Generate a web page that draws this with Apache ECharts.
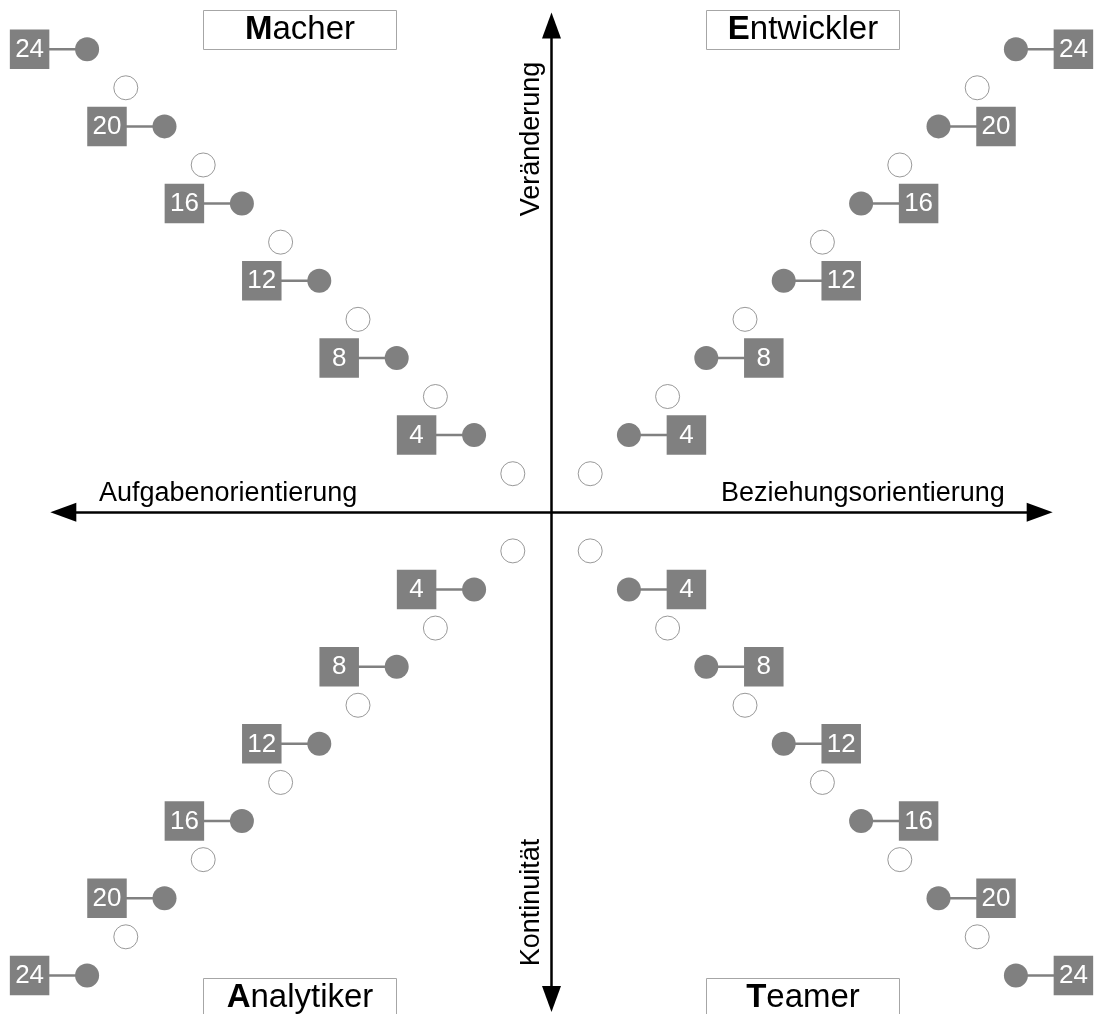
<!DOCTYPE html>
<html>
<head>
<meta charset="utf-8">
<script src="https://cdn.jsdelivr.net/npm/echarts@6/dist/echarts.min.js"></script>
<style>
  html, body { margin: 0; padding: 0; background: #fff; }
  #chart { width: 1096px; height: 1014px; }
</style>
</head>
<body>
<div id="chart"></div>
<script>
// diagonal steps per quadrant: odd ones are empty rings, even ones carry a score
const openSteps = [1, 3, 5, 7, 9, 11];
const scoreSteps = [2, 4, 6, 8, 10, 12];
const scoreLabels = [4, 8, 12, 16, 20, 24];
const quadrantNames = ['Macher', 'Entwickler', 'Analytiker', 'Teamer'];
const quadrantSigns = [[-1, 1], [1, 1], [-1, -1], [1, -1]];
const axisTitles = ['Aufgabenorientierung', 'Beziehungsorientierung', 'Veränderung', 'Kontinuität'];

const GRAY = '#808080';
const FONT = 'Arial, "Liberation Sans", Helvetica, sans-serif';
const UNIT = 38.7;          // px per step
const CX = 551.5, CY = 513.7;
const ARROW_TIP = 12.95;    // in steps
const ARROW_LEN = 26;       // px

const openData = [];
const scoreData = [];
quadrantSigns.forEach(([sx, sy]) => {
  openSteps.forEach((s) => openData.push([sx * s, sy * s]));
  scoreSteps.forEach((s, i) => scoreData.push([sx * s, sy * s, scoreLabels[i], sx]));
});

function renderScore(params, api) {
  const p = api.coord([api.value(0), api.value(1)]);
  const dir = api.value(3);
  const unit = api.size([1, 0])[0];
  const sqX = p[0] + dir * unit * 1.486;
  const half = 19.75;
  return {
    type: 'group',
    children: [
      { type: 'line', shape: { x1: p[0], y1: p[1], x2: sqX, y2: p[1] }, style: { stroke: GRAY, lineWidth: 2.5 } },
      { type: 'rect', shape: { x: sqX - half, y: p[1] - half, width: half * 2, height: half * 2 }, style: { fill: GRAY } },
      { type: 'circle', shape: { cx: p[0], cy: p[1], r: 12 }, style: { fill: GRAY } },
      {
        type: 'text', x: sqX, y: p[1] + 0.5,
        style: { text: String(api.value(2)), fill: '#fff', font: '26px ' + FONT, textAlign: 'center', textVerticalAlign: 'middle' }
      }
    ]
  };
}

// boxes with the type names
const boxPos = [[203.5, 10.5], [706.5, 10.5], [203.5, 978.5], [706.5, 978.5]];
const graphics = [];
quadrantNames.forEach((name, i) => {
  const [bx, by] = boxPos[i];
  graphics.push({
    type: 'rect', shape: { x: bx, y: by, width: 193, height: 39 },
    style: { fill: '#fff', stroke: '#a6a6a6', lineWidth: 1 }
  });
  graphics.push({
    type: 'text', x: bx + 96.5, y: by + 19.5,
    style: {
      text: '{b|' + name[0] + '}' + name.slice(1),
      font: '33px ' + FONT, fill: '#000',
      textAlign: 'center', textVerticalAlign: 'middle',
      rich: { b: { font: 'bold 33px ' + FONT, fill: '#000' } }
    }
  });
});

const titlePos = [
  { x: 99, y: 494, rotation: 0, align: 'left' },
  { x: 721, y: 494, rotation: 0, align: 'left' },
  { x: 532, y: 139, rotation: Math.PI / 2, align: 'center' },
  { x: 532, y: 902.5, rotation: Math.PI / 2, align: 'center' }
];
axisTitles.forEach((t, i) => {
  const tp = titlePos[i];
  graphics.push({
    type: 'text', x: tp.x, y: tp.y, rotation: tp.rotation,
    style: { text: t, font: '27px ' + FONT, fill: '#000', textAlign: tp.align, textVerticalAlign: 'middle' }
  });
});

const arrowEnd = ARROW_TIP - ARROW_LEN / 2 / UNIT;

const chart = echarts.init(document.getElementById('chart'));
chart.setOption({
  animation: false,
  backgroundColor: '#fff',
  grid: {
    left: CX - 14 * UNIT,
    top: CY - 13 * UNIT,
    width: 28 * UNIT,
    height: 26 * UNIT
  },
  xAxis: { type: 'value', min: -14, max: 14, show: false },
  yAxis: { type: 'value', min: -13, max: 13, show: false },
  graphic: graphics,
  series: [
    {
      type: 'scatter',
      data: openData,
      symbol: 'circle',
      symbolSize: 24,
      silent: true,
      itemStyle: { color: '#fff', borderColor: GRAY, borderWidth: 1 },
      markLine: {
        silent: true,
        symbol: ['triangle', 'triangle'],
        symbolSize: [19, ARROW_LEN],
        label: { show: false },
        lineStyle: { color: '#000', width: 2.5, type: 'solid' },
        data: [
          [{ coord: [-arrowEnd, 0] }, { coord: [arrowEnd, 0] }],
          [{ coord: [0, -arrowEnd] }, { coord: [0, arrowEnd] }]
        ]
      }
    },
    {
      type: 'custom',
      data: scoreData,
      silent: true,
      renderItem: renderScore
    }
  ]
});
</script>
</body>
</html>
